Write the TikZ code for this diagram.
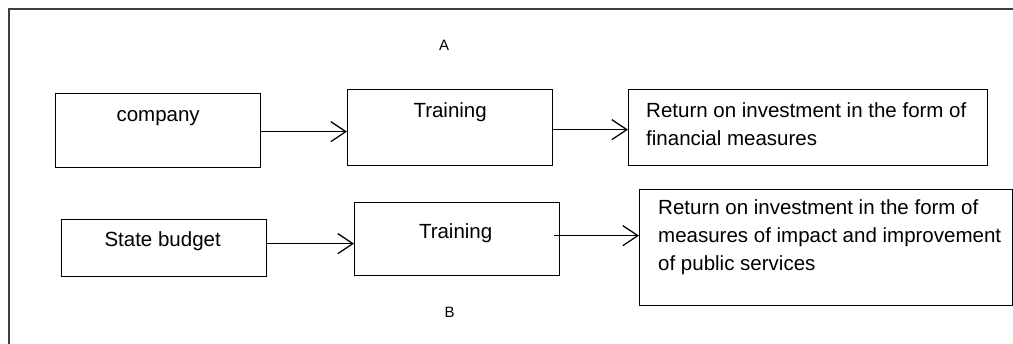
\documentclass[tikz,border=0pt]{standalone}
\usepackage{fontspec}
\setmainfont{Liberation Sans}
\usetikzlibrary{arrows.meta}
\usetikzlibrary{positioning}

\tikzset{
  box/.style={draw, line width=1.3pt, anchor=north west, inner sep=0pt},
  txt/.style={font=\fontsize{20.5}{28}\selectfont, inner sep=0pt, anchor=base},
  rettxt/.style={txt, anchor=base west, align=left},
  tag/.style={font=\fontsize{15}{18}\selectfont, inner sep=0pt, anchor=base},
  flow/.style={line width=1.3pt, -{Straight Barb[length=15pt,width=20pt,line width=1.3pt]}},
}

\begin{document}
\begin{tikzpicture}[x=1pt,y=-1pt]
    \useasboundingbox (0,0) rectangle (1013,344);
    % outer frame
    \draw[line width=1.5pt, black!75] (9,344) -- (9,9) -- (1013,9);
    \node[tag] (tagA) at (444,50.5) {A};
    \node[tag] (tagB) at (449.5,317.5) {B};
    % row A
    \node[box, minimum width=205pt, minimum height=74pt] (company) at (55,93) {};
    \node[box, minimum width=205pt, minimum height=76pt] (trainA) at (347,89) {};
    \node[box, minimum width=359pt, minimum height=76pt] (returnA) at (628,89) {};
    \node[txt] (companytxt) at ([yshift=-29pt]company.north) {company};
    \node[txt] (trainAtxt) at ([yshift=-29pt]trainA.north) {Training};
    % base of a multi-line node is its last line
    \node[rettxt] (returnAtxt) at ([xshift=18pt,yshift=-57pt]returnA.north west)
      {Return on investment in the form of\\financial measures};
    \draw[flow] ([yshift=-1pt]company.east) -- ([yshift=-1pt]company.east -| trainA.west);
    \draw[flow] ([yshift=-2pt]trainA.east) -- ([yshift=-2pt]trainA.east -| returnA.west);
    % row B
    \node[box, minimum width=205pt, minimum height=57pt] (budget) at (61,219) {};
    \node[box, minimum width=205pt, minimum height=73pt] (trainB) at (354,202) {};
    \node[box, minimum width=373pt, minimum height=116pt] (returnB) at (639,189) {};
    \node[txt] (budgettxt) at ([xshift=-1.5pt,yshift=-28pt]budget.north) {State budget};
    \node[txt] (trainBtxt) at ([xshift=-1.5pt,yshift=-37pt]trainB.north) {Training};
    \node[rettxt] (returnBtxt) at ([xshift=19pt,yshift=-82pt]returnB.north west)
      {Return on investment in the form of\\measures of impact and improvement\\of public services};
    \draw[flow] ([yshift=4.5pt]budget.east) -- ([yshift=4.5pt]budget.east -| trainB.west);
    \draw[flow] ([xshift=-6pt,yshift=3.5pt]trainB.east) -- ([yshift=3.5pt]trainB.east -| returnB.west);
\end{tikzpicture}
\end{document}
